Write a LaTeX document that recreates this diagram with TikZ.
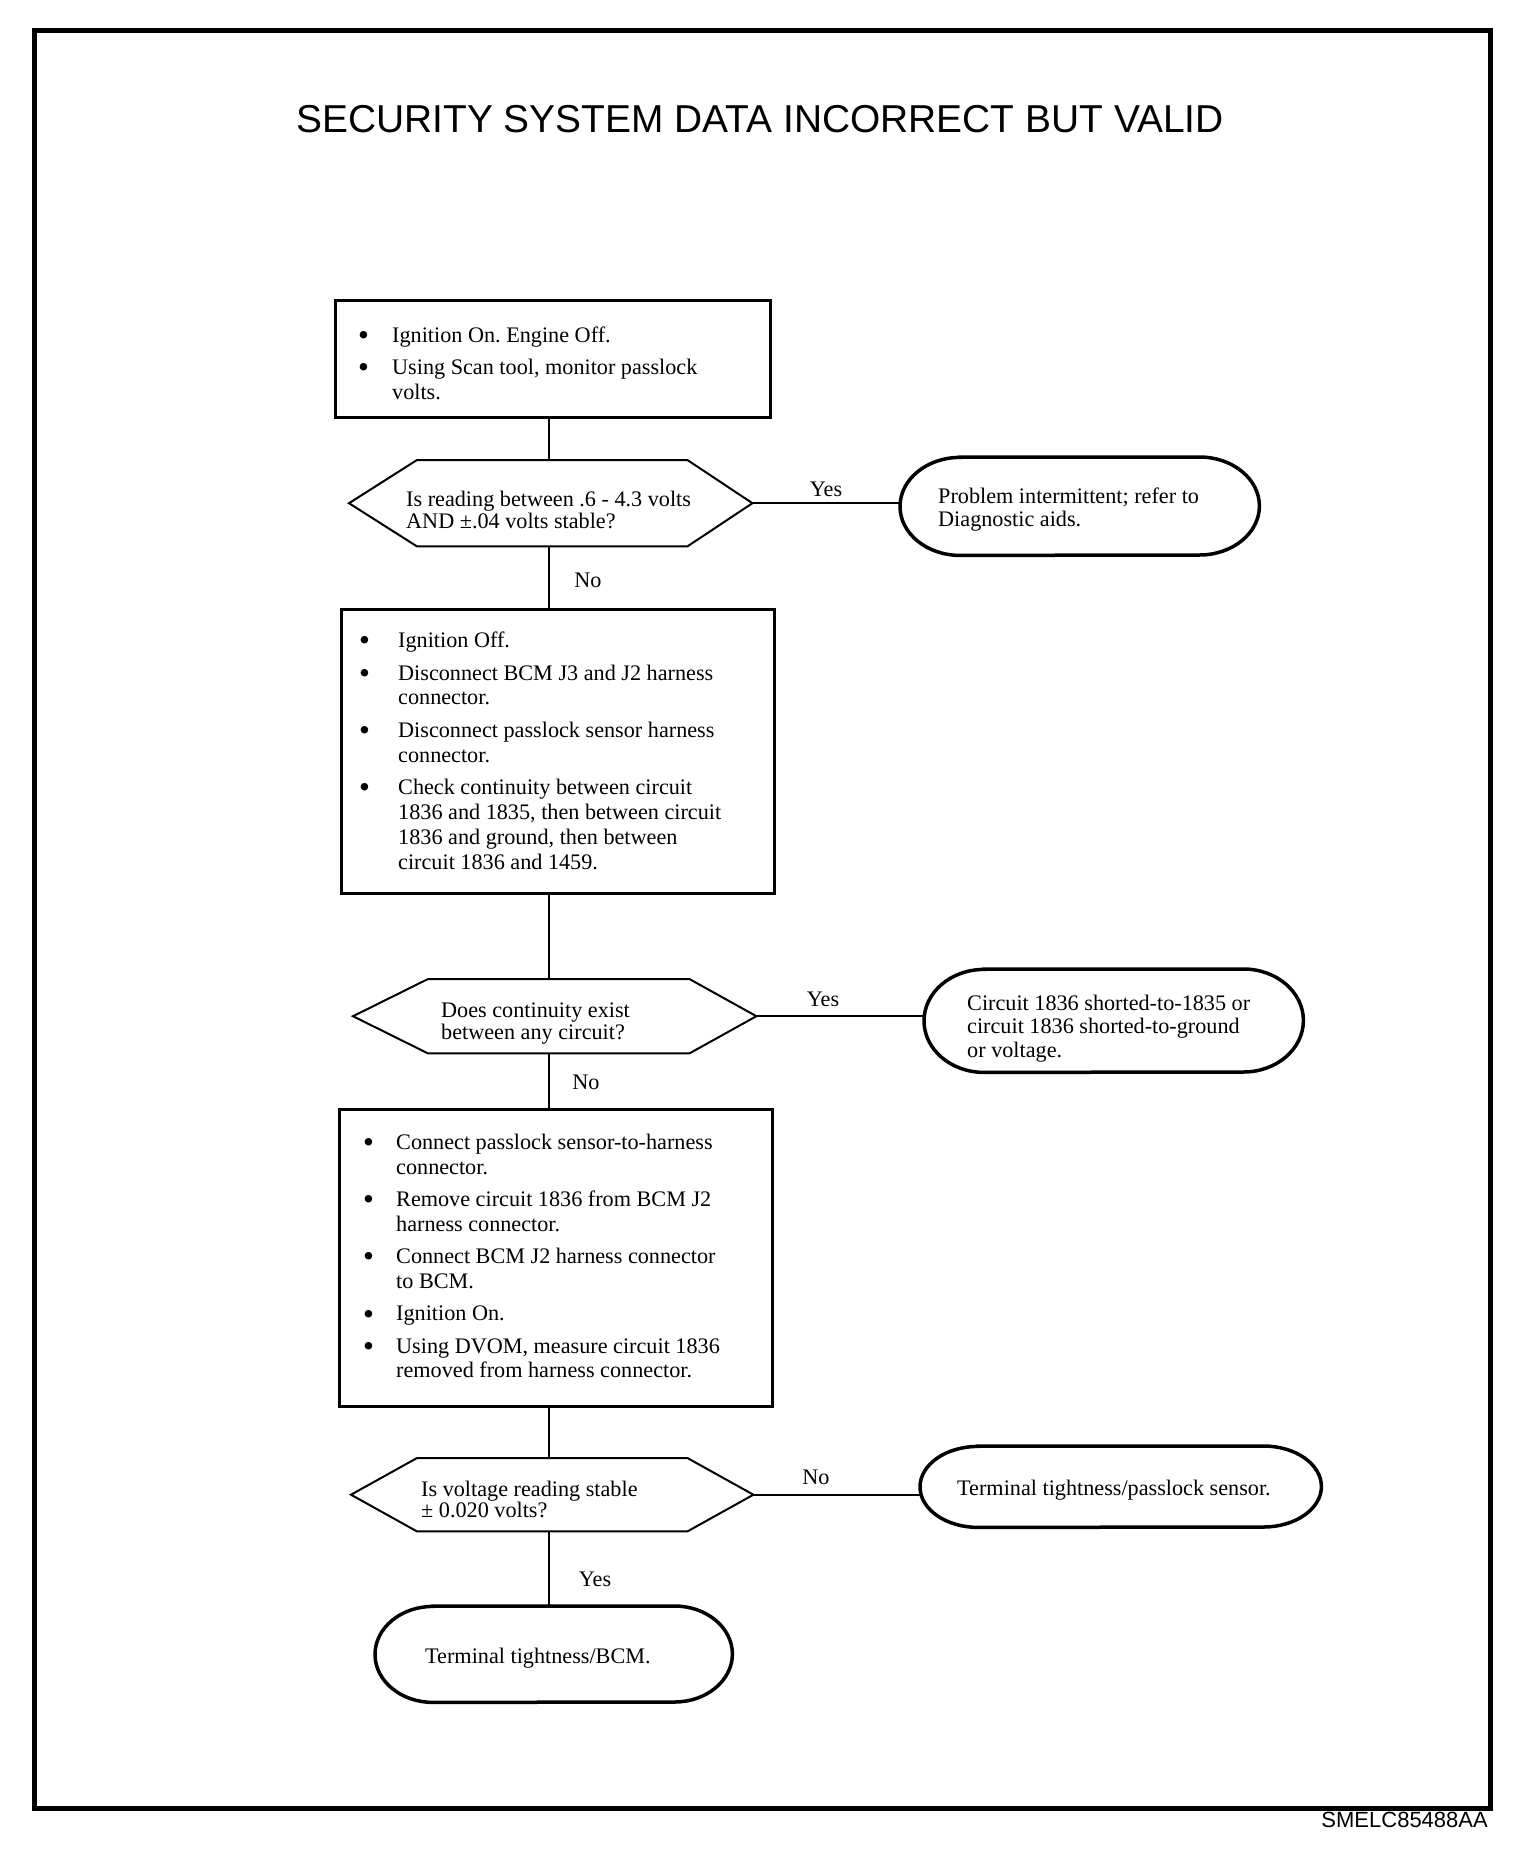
\documentclass[tikz,border=0pt]{standalone}
\usepackage{fontspec}
\setmainfont{Liberation Serif}
\newfontfamily\sansf{Liberation Sans}
\newcommand\rsp{\spaceskip=0pt\relax\xspaceskip=0pt\relax\frenchspacing}
\newcommand\bigbul{\hspace*{-4pt}\raisebox{-3.2pt}{\scalebox{1.4}{\textbullet}}}
\newcommand\bitem[2][30pt]{\noindent\hangindent=#1\relax\hangafter=1\relax\makebox[#1][l]{\bigbul}#2\par}
\newcommand\hexpath[3]{\draw[decline] (#1.west) -- ([xshift=#2pt]#1.north west) -- ([xshift=-#3pt]#1.north east) -- (#1.east) -- ([xshift=-#3pt]#1.south east) -- ([xshift=#2pt]#1.south west) -- cycle;}
\newcommand\ovalpath[3]{\draw[ovalline] ([xshift=#2pt]#1.north west) -- ([xshift=-#2pt]#1.north east) arc[start angle=90, end angle=-90, x radius=#2pt, y radius=#3pt] -- ([xshift=#2pt]#1.south west) arc[start angle=270, end angle=90, x radius=#2pt, y radius=#3pt] -- cycle;}
\begin{document}
\begin{tikzpicture}[x=1pt,y=-1pt,
  stepbox/.style={draw, line width=3pt, inner sep=0pt, anchor=north west},
  shapebox/.style={inner sep=0pt, anchor=north west},
  decline/.style={line width=2pt, line join=miter},
  ovalline/.style={line width=3.5pt},
  conn/.style={line width=2pt},
  tx/.style={inner sep=0pt, anchor=base west, text width=#1},
  lbl/.style={inner sep=0pt, anchor=base, font=\fontsize{22.2}{22.2}\selectfont},
]
\useasboundingbox (0,0) rectangle (1536,1850);
\coordinate (spine) at (549,0);

% frame, title, code
\node[draw, line width=5pt, inner sep=0pt, anchor=north west, minimum width=1456pt, minimum height=1778pt] (frame) at (31.5,27.5) {};
\node[inner sep=0pt, anchor=base, font=\sansf\fontsize{38.9}{40}\selectfont] (title) at (760,132) {SECURITY SYSTEM DATA INCORRECT BUT VALID};
\node[inner sep=0pt, anchor=base east, font=\sansf\fontsize{22}{22}\selectfont] (code) at (1488,1827) {SMELC85488AA};

% box 1
\node[stepbox, minimum width=435pt, minimum height=117pt] (b1) at (334,299) {};
\node[tx=420pt, font=\fontsize{22.2}{24.8}\selectfont] (t1) at (362,342) {\rsp\setlength\parskip{7.7pt}%
\bitem[30pt]{Ignition On. Engine Off.}%
\bitem[30pt]{Using Scan tool, monitor passlock\newline volts.}};

% decision 1
\node[shapebox, minimum width=403pt, minimum height=86pt] (d1) at (349,460) {};
\hexpath{d1}{68}{65}
\node[tx=360pt, font=\fontsize{22.2}{22.5}\selectfont] (q1) at (406,506) {\rsp Is reading between .6 - 4.3 volts\newline AND ±.04 volts stable?\par};

% oval 1
\node[shapebox, minimum width=359pt, minimum height=98pt] (o1) at (900,457) {};
\ovalpath{o1}{60}{49}
\node[tx=340pt, font=\fontsize{22.2}{23}\selectfont] (p1) at (938,503) {\rsp Problem intermittent; refer to\newline Diagnostic aids.\par};

% box 2
\node[stepbox, minimum width=433pt, minimum height=284pt] (b2) at (340,608) {};
\node[tx=420pt, font=\fontsize{22.2}{24.8}\selectfont] (t2) at (363,647.5) {\rsp\setlength\parskip{7.7pt}%
\bitem[35pt]{Ignition Off.}%
\bitem[35pt]{Disconnect BCM J3 and J2 harness\newline connector.}%
\bitem[35pt]{Disconnect passlock sensor harness\newline connector.}%
\bitem[35pt]{Check continuity between circuit\newline 1836 and 1835, then between circuit\newline 1836 and ground, then between\newline circuit 1836 and 1459.}};

% decision 2
\node[shapebox, minimum width=403pt, minimum height=74pt] (d2) at (353,979) {};
\hexpath{d2}{75}{67}
\node[tx=320pt, font=\fontsize{22.2}{22}\selectfont] (q2) at (441,1017) {\rsp Does continuity exist\newline between any circuit?\par};

% oval 2
\node[shapebox, minimum width=379pt, minimum height=103pt] (o2) at (924,969) {};
\ovalpath{o2}{60}{51.5}
\node[tx=350pt, font=\fontsize{22.2}{23.5}\selectfont] (p2) at (967,1010) {\rsp Circuit 1836 shorted-to-1835 or\newline circuit 1836 shorted-to-ground\newline or voltage.\par};

% box 3
\node[stepbox, minimum width=433pt, minimum height=297pt] (b3) at (338,1108) {};
\node[tx=420pt, font=\fontsize{22.2}{24.8}\selectfont] (t3) at (367,1149.5) {\rsp\setlength\parskip{7.5pt}%
\bitem[29pt]{Connect passlock sensor-to-harness\newline connector.}%
\bitem[29pt]{Remove circuit 1836 from BCM J2\newline harness connector.}%
\bitem[29pt]{Connect BCM J2 harness connector\newline to BCM.}%
\bitem[29pt]{Ignition On.}%
\bitem[29pt]{Using DVOM, measure circuit 1836\newline removed from harness connector.}};

% decision 3
\node[shapebox, minimum width=402pt, minimum height=73pt] (d3) at (351,1458) {};
\hexpath{d3}{66}{66}
\node[tx=320pt, font=\fontsize{22.2}{21.5}\selectfont] (q3) at (421,1496) {\rsp Is voltage reading stable\newline ± 0.020 volts?\par};

% oval 3
\node[shapebox, minimum width=401pt, minimum height=81pt] (o3) at (920,1446) {};
\ovalpath{o3}{58}{40.5}
\node[tx=380pt, font=\fontsize{22.2}{22}\selectfont] (p3) at (957,1495) {\rsp Terminal tightness/passlock sensor.\par};

% oval 4
\node[shapebox, minimum width=357pt, minimum height=96pt] (o4) at (375,1606) {};
\ovalpath{o4}{58}{48}
\node[tx=320pt, font=\fontsize{22.2}{22}\selectfont] (p4) at (425,1663) {\rsp Terminal tightness/BCM.\par};

% connectors
\draw[conn] (b1.south -| spine) -- (d1.north -| spine);
\draw[conn] (d1.south -| spine) -- (b2.north -| spine);
\draw[conn] (d1.east) -- (d1.east -| o1.west);
\draw[conn] (b2.south -| spine) -- (d2.north -| spine);
\draw[conn] (d2.east) -- (d2.east -| o2.west);
\draw[conn] (d2.south -| spine) -- (b3.north -| spine);
\draw[conn] (b3.south -| spine) -- (d3.north -| spine);
\draw[conn] (d3.east) -- (d3.east -| o3.west);
\draw[conn] (d3.south -| spine) -- (o4.north -| spine);

% labels
\node[lbl] (y1) at (826,496) {Yes};
\node[lbl] (n1) at (588,587) {No};
\node[lbl] (y2) at (823,1006) {Yes};
\node[lbl] (n2) at (586,1089) {No};
\node[lbl] (n3) at (816,1484) {No};
\node[lbl] (y3) at (595,1586) {Yes};
\end{tikzpicture}
\end{document}
